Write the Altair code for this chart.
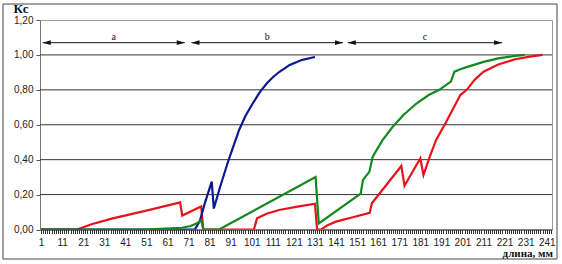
import altair as alt
import pandas as pd

# ---- data ----
red_x = [1, 18, 25, 35, 51, 67, 68, 77, 78, 102, 103.5, 108, 114, 122, 131, 132, 134, 137, 141, 149, 157, 158, 172, 173.5, 181, 182.5, 185.5, 188.5, 193, 200, 203, 207, 211, 218, 226, 233, 239]
red_y = [0, 0, 0.03, 0.064, 0.108, 0.155, 0.08, 0.132, 0, 0, 0.064, 0.09, 0.112, 0.13, 0.148, 0, 0, 0.025, 0.045, 0.07, 0.095, 0.15, 0.364, 0.25, 0.408, 0.312, 0.417, 0.513, 0.61, 0.77, 0.80, 0.86, 0.904, 0.945, 0.975, 0.99, 1.0]

blue_x = [1, 74, 76.4, 78.7, 82, 83, 86, 90, 95, 98, 101.5, 105, 108, 111, 114, 119, 125, 131]
blue_y = [0, 0, 0.05, 0.15, 0.274, 0.12, 0.245, 0.398, 0.57, 0.65, 0.723, 0.79, 0.835, 0.872, 0.902, 0.943, 0.972, 0.988]

green_x = [1, 50, 60, 68, 72, 75, 77, 78, 85.5, 131.3, 132.8, 152.7, 153.8, 156.8, 158.4, 163, 168, 173, 179, 185, 190, 195.5, 197.2, 200, 203, 211, 218, 226, 230.5]
green_y = [0, 0, 0.005, 0.01, 0.02, 0.035, 0.054, 0, 0, 0.30, 0.035, 0.205, 0.284, 0.33, 0.417, 0.51, 0.59, 0.656, 0.72, 0.77, 0.80, 0.847, 0.904, 0.918, 0.93, 0.96, 0.98, 0.994, 1.0]

x_ticks = list(range(1, 244))
y_ticks = [0, 0.2, 0.4, 0.6, 0.8, 1.0, 1.2]
grid_vals = [0.2, 0.4, 0.6, 0.8, 1.0]

# zone arrows
zone_start = [1.8, 72.4, 146.6]
zone_end = [69.2, 144.3, 219.8]
zone_label = ["a", "b", "c"]
zone_label_x = [35.5, 108.3, 183.2]
arrow_y = 1.07
label_y = 1.105

# ---- chart ----
XS = alt.Scale(domain=[0.5, 243.5], nice=False, zero=False)
YS = alt.Scale(domain=[0, 1.2], nice=False, zero=True)

x_axis = alt.Axis(values=x_ticks, labelExpr="(datum.value - 1) % 10 == 0 ? datum.value : ''",
                  title=None, grid=False, tickSize=4, tickColor="#333", domainColor="#333",
                  labelFont="Liberation Sans", labelFontSize=10, labelColor="#222",
                  labelPadding=4, labelOverlap=False, labelFlush=False, labelBound=False)
y_axis = alt.Axis(values=y_ticks, labelExpr="replace(format(datum.value, '.2f'), '.', ',')",
                  title=None, grid=False, tickSize=4, tickColor="#555", domainColor="#777",
                  labelFont="Liberation Sans", labelFontSize=10, labelColor="#222",
                  labelPadding=3, labelOverlap=False, labelFlush=False)

def X(f):
    return alt.X(f, type="quantitative", scale=XS, axis=x_axis)

def Y(f):
    return alt.Y(f, type="quantitative", scale=YS, axis=y_axis)

grid = alt.Chart(pd.DataFrame({"g": grid_vals})).mark_rule(color="#333", strokeWidth=1).encode(
    y=Y("g"))

def series(xs, ys, color):
    df = pd.DataFrame({"x": xs, "y": ys})
    return alt.Chart(df).mark_line(color=color, strokeWidth=2.2, clip=True).encode(
        x=X("x"), y=Y("y"))

red = series(red_x, red_y, "#e8121c")
blue = series(blue_x, blue_y, "#0b1a8f")
green = series(green_x, green_y, "#12881e")

zones = pd.DataFrame({"s": zone_start, "e": zone_end, "lab": zone_label, "lx": zone_label_x,
                      "ay": [arrow_y] * 3, "ly": [label_y] * 3})
zbase = alt.Chart(zones)
arrow_lines = zbase.mark_rule(color="#111", strokeWidth=1).encode(
    x=X("s"), x2="e:Q", y=Y("ay"))
left_heads = zbase.mark_point(shape="M0,0L2,-0.6L2,0.6Z", filled=True, color="#111", opacity=1, size=64).encode(
    x=X("s"), y=Y("ay"))
right_heads = zbase.mark_point(shape="M0,0L-2,-0.6L-2,0.6Z", filled=True, color="#111", opacity=1, size=64).encode(
    x=X("e"), y=Y("ay"))
zone_text = zbase.mark_text(font="Liberation Serif", fontSize=10, color="#111", baseline="middle").encode(
    x=X("lx"), y=Y("ly"), text="lab:N")

one = alt.Data(values=[{"a": 1}])
frame = alt.Chart(one).mark_rect(filled=False, stroke="#444", strokeWidth=1, fill=None).encode(
    x=alt.value(-37), x2=alt.value(517), y=alt.value(-16), y2=alt.value(239))
ytitle = alt.Chart(one).mark_text(text="Кс", font="Liberation Serif", fontSize=13, fontWeight="bold",
                                  color="#111", align="center", baseline="middle").encode(
    x=alt.value(-19), y=alt.value(-11))
xtitle = alt.Chart(one).mark_text(text="длина, мм", font="Liberation Serif", fontSize=11, fontWeight="bold",
                                  color="#111", align="right", baseline="middle").encode(
    x=alt.value(513), y=alt.value(234))

chart = alt.layer(grid, red, blue, green, arrow_lines, left_heads, right_heads, zone_text,
                  frame, ytitle, xtitle).properties(
    width=512, height=209.5,
    autosize=alt.AutoSizeParams(type="none"),
    padding={"left": 40, "top": 20, "right": 10, "bottom": 34},
    background="white",
).configure_view(stroke="#999", strokeWidth=1)

chart.save("out.html", embed_options={"renderer": "svg", "actions": False})
